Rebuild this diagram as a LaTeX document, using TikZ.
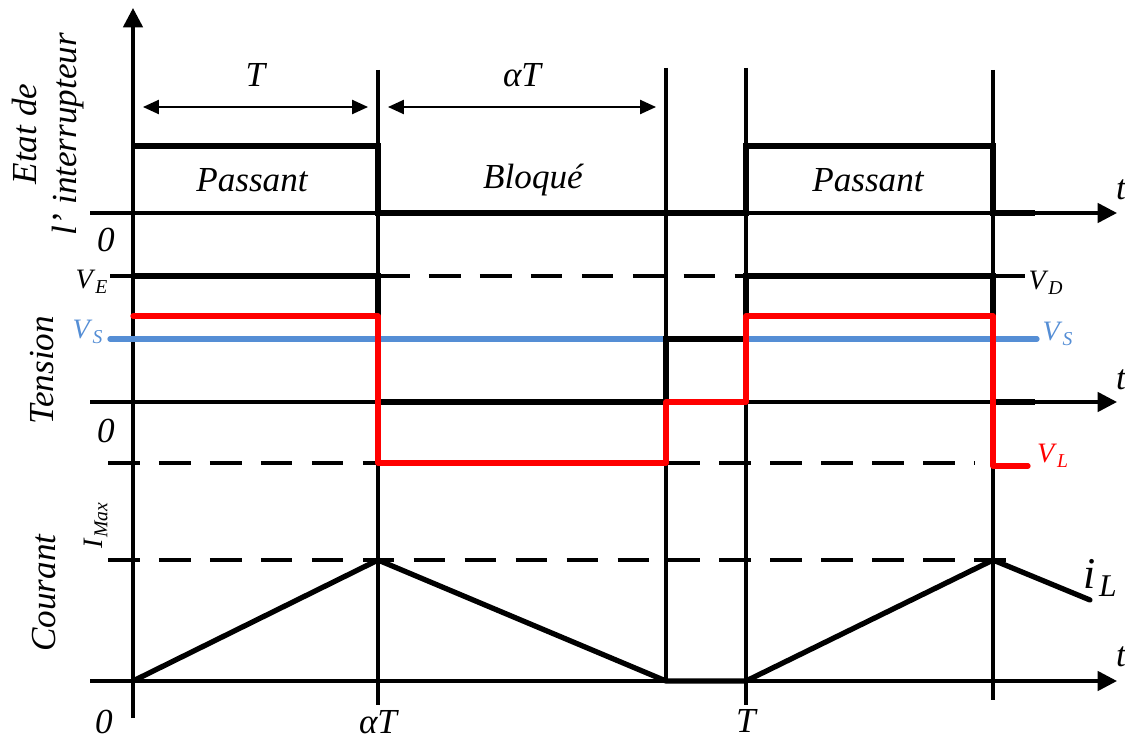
\documentclass[tikz,border=0pt]{standalone}
\usepackage{fontspec}
\setmainfont{Liberation Serif}
\usetikzlibrary{arrows.meta}
\definecolor{vsblue}{RGB}{85,142,213}
\newcommand{\idx}[2]{\textit{#1}\textsubscript{\textit{#2}}}
\begin{document}
\begin{tikzpicture}[x=0.02cm, y=-0.02cm, axis/.style={line width=2pt, -{Triangle[length=11pt,width=11pt]}}, grid/.style={line width=1.8pt}, wave/.style={line width=3pt}, levelline/.style={line width=1.8pt, dash pattern=on 18pt off 11pt}, lbl/.style={font=\fontsize{20}{23}\selectfont\itshape, inner sep=1pt}, small/.style={font=\fontsize{16}{18}\selectfont, inner sep=1pt}]
	\useasboundingbox (0,0) rectangle (1125,740);
	\coordinate (o) at (133,718);
	\coordinate (top) at (133,8);
	\coordinate (a1) at (90,213);
	\coordinate (a2) at (90,402);
	\coordinate (a3) at (90,681);
	\coordinate (b1) at (1117,213);
	\coordinate (b2) at (1117,402);
	\coordinate (b3) at (1117,681);

	% dashed levels
	\draw[levelline] (108,463) -- (975,463);
	\draw[levelline] (108,560) -- (1025,560);
	\draw[levelline] (378,276) -- (746,276);
	\draw[grid] (110,276) -- (378,276);
	\draw[grid] (746,276) -- (1025,276);

	% time marks
	\draw[grid] (378,70) -- (378,705);
	\draw[grid] (666,68) -- (666,681);
	\draw[grid] (746,68) -- (746,705);
	\draw[grid] (993,70) -- (993,700);

	% axes
	\draw[axis] (o) -- (top);
	\draw[axis] (a1) -- (b1);
	\draw[axis] (a2) -- (b2);
	\draw[axis] (a3) -- (b3);

	% switch state
	\draw[wave] (133,146) -- (378,146) -- (378,213) -- (746,213) -- (746,146) -- (993,146) -- (993,213) -- (1035,213);
	\draw[line width=1pt, {Triangle[length=9pt,width=8pt]}-{Triangle[length=9pt,width=8pt]}] (143,107) -- node[lbl, above=10pt] (t1) {T} (368,107);
	\draw[line width=1pt, {Triangle[length=9pt,width=8pt]}-{Triangle[length=9pt,width=8pt]}] (388,107) -- node[lbl, above=10pt] (t2) {αT} (656,107);
	\node[lbl] (p1) at (252,180) {Passant};
	\node[lbl] (bl) at (533,180) {Bloqué};
	\node[lbl] (p2) at (868,180) {Passant};

	% voltages
	\draw[line width=3pt, vsblue, line cap=round] (110,339) -- (1037,339);
	\draw[wave] (133,276) -- (378,276) -- (378,402) -- (666,402) -- (666,339) -- (746,339) -- (746,276) -- (993,276) -- (993,402) -- (1035,402);
	\draw[wave, red, line cap=round, line join=round] (133,316) -- (378,316) -- (378,463) -- (666,463) -- (666,402) -- (746,402) -- (746,316) -- (993,316) -- (993,466) -- (1028,466);

	% current
	\draw[wave, line join=round, line cap=round] (133,681) -- (378,560) -- (666,681) -- (746,681) -- (993,560) -- (1090,600);

	% labels
	\node[lbl, rotate=90, align=center] (etat) at (48,134) {Etat de\\l' interrupteur};
	\node[lbl, rotate=90] (tens) at (42,370) {Tension};
	\node[lbl, rotate=90] (cour) at (44,593) {Courant};
	\node[small, rotate=90] (imax) at (96,525) {\idx{I}{Max}};
	\node[small] (ve) at (92,282) {\idx{V}{E}};
	\node[small, vsblue] (vs1) at (88,332) {\idx{V}{S}};
	\node[small] (vd) at (1046,283) {\idx{V}{D}};
	\node[small, vsblue] (vs2) at (1058,334) {\idx{V}{S}};
	\node[small, red] (vl) at (1053,456) {\idx{V}{L}};
	\node[font=\fontsize{25}{27}\selectfont\itshape] (il) at (1100,578) {i\hspace{2pt}\raisebox{-0.4ex}{\fontsize{18}{20}\selectfont L}};
	\node[lbl] (z1) at (106,240) {0};
	\node[lbl] (z2) at (106,431) {0};
	\node[lbl] (z3) at (104,722) {0};
	\node[lbl] (at) at (378,722) {αT};
	\node[lbl] (tt) at (746,721) {T};
	\node[lbl] (t1x) at (1121,190) {t};
	\node[lbl] (t2x) at (1121,380) {t};
	\node[lbl] (t3x) at (1121,657) {t};
\end{tikzpicture}
\end{document}
